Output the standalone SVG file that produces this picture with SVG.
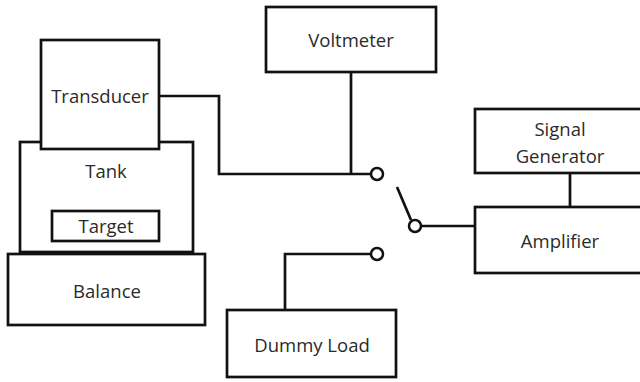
<svg xmlns="http://www.w3.org/2000/svg" width="640" height="382" viewBox="0 0 640 382">
<style>
.box{fill:#fff;stroke:#111;stroke-width:2.7}
.w{fill:none;stroke:#111;stroke-width:2.7}
.c{fill:#fff;stroke:#111;stroke-width:2.5}
text{font-family:"Open Sans","Noto Sans",sans-serif;font-size:18.5px;fill:#2a2a2a;text-anchor:middle}
</style>
<rect width="640" height="382" fill="#fff"/>
<g id="connectors">
<polyline class="w" points="159,96 219,96 219,174 370,174"/>
<line class="w" x1="351" y1="72" x2="351" y2="174"/>
<line class="w" x1="397" y1="187" x2="411" y2="220"/>
<line class="w" x1="421" y1="226" x2="475" y2="226"/>
<polyline class="w" points="285,310 285,254 370,254"/>
<line class="w" x1="570" y1="173" x2="570" y2="207"/>
<circle class="c" cx="377" cy="174" r="6"/>
<circle class="c" cx="415" cy="226" r="6"/>
<circle class="c" cx="377" cy="254" r="6"/>
</g>
<g id="tank"><rect class="box" x="20" y="142" width="173" height="110"/><text x="106" y="178">Tank</text></g>
<g id="transducer"><rect class="box" x="41" y="40" width="118" height="109"/><text x="100" y="103">Transducer</text></g>
<g id="target"><rect class="box" x="52" y="211" width="107" height="30"/><text x="106" y="233">Target</text></g>
<g id="balance"><rect class="box" x="8" y="254" width="197" height="71"/><text x="107" y="298">Balance</text></g>
<g id="voltmeter"><rect class="box" x="266" y="7" width="170" height="65"/><text x="351" y="47">Voltmeter</text></g>
<g id="signal-generator"><rect class="box" x="475" y="109" width="170" height="64"/><text x="560" y="136">Signal</text><text x="560" y="163">Generator</text></g>
<g id="amplifier"><rect class="box" x="475" y="207" width="170" height="66"/><text x="560" y="248">Amplifier</text></g>
<g id="dummy-load"><rect class="box" x="227" y="310" width="169" height="67"/><text x="312" y="352">Dummy Load</text></g>
</svg>
